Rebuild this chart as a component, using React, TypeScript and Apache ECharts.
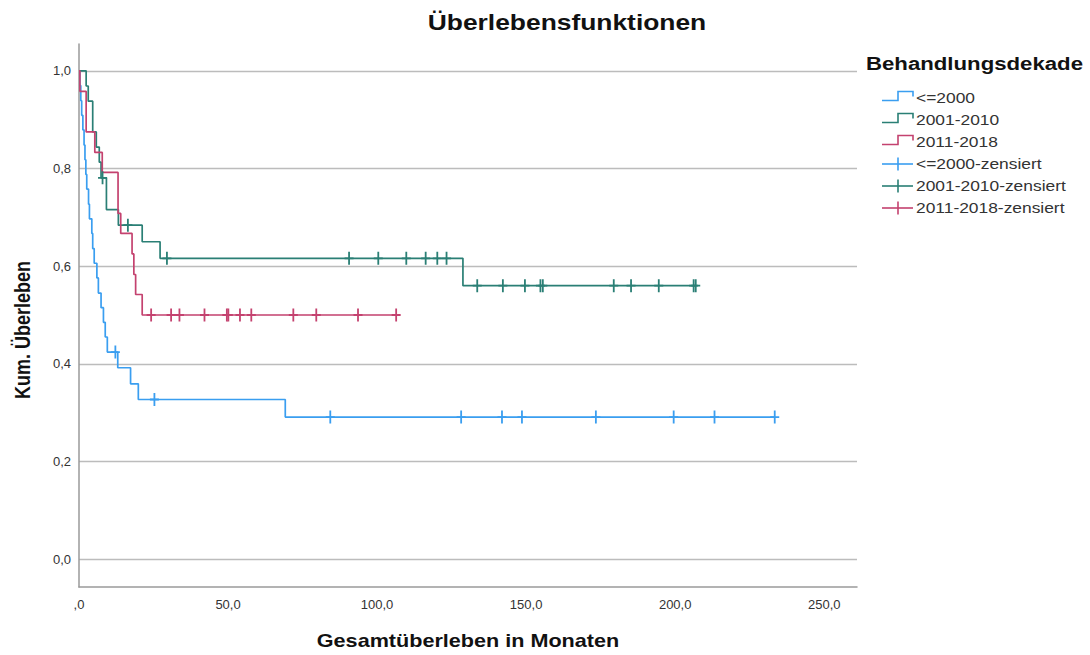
import React, { useEffect, useRef } from "react";
import * as echarts from "echarts";

// Kaplan-Meier survival by treatment decade: [months, cumulative survival]
const groupNames = ["<=2000", "2001-2010", "2011-2018"];
const groupColors = ["#3a9ef0", "#2a7f75", "#c4426f"];

const stepsUpTo2000: [number, number][] = [
  [0, 1], [0.3, 0.97], [0.6, 0.939], [0.9, 0.909], [1.3, 0.879], [1.7, 0.848],
  [2.0, 0.818], [2.3, 0.788], [2.6, 0.758], [3.2, 0.727], [3.5, 0.697],
  [4.3, 0.667], [4.6, 0.636], [5.1, 0.606], [6.0, 0.576], [6.5, 0.545],
  [7.4, 0.515], [8.2, 0.485], [8.8, 0.455], [9.5, 0.424], [13.0, 0.392],
  [17.3, 0.359], [19.9, 0.327], [69.2, 0.291], [233.4, 0.291],
];
const censoredUpTo2000 = [12.2, 25.3, 84.3, 128.2, 141.9, 148.6, 173.4, 199.5, 213.2, 233.4];

const steps2001to2010: [number, number][] = [
  [0, 1], [2.4, 0.969], [3.1, 0.938], [4.6, 0.875], [5.8, 0.844], [6.8, 0.813],
  [7.4, 0.781], [9.2, 0.716], [13.2, 0.684], [21.2, 0.65], [27.2, 0.616],
  [128.8, 0.56], [206.9, 0.56],
];
const censored2001to2010 = [
  7.9, 16.4, 29.5, 90.6, 100.4, 109.8, 116.3, 120.2, 123.3, 133.6, 142.2,
  149.6, 154.8, 155.6, 179.4, 185.2, 194.5, 206.2, 206.9,
];

const steps2011to2018: [number, number][] = [
  [0, 1], [0.3, 0.958], [2.4, 0.875], [5.3, 0.833], [7.8, 0.792], [13.1, 0.708],
  [14.0, 0.667], [17.8, 0.625], [18.4, 0.583], [19.0, 0.542], [21.2, 0.5],
  [106.4, 0.5],
];
const censored2011to2018 = [24.2, 30.9, 33.7, 42.1, 49.6, 50.1, 54.0, 57.8, 71.9, 79.6, 93.6, 106.4];

const xTickValues = [0, 50, 100, 150, 200, 250];
const yTickValues = [0, 0.2, 0.4, 0.6, 0.8, 1.0];

const FONT = "'Liberation Sans', Arial, sans-serif";
const STRETCH = 1.2;

// censor mark: a filled plus sign
const PLUS =
  "path://M3.6,0 H5.4 V5.6 H9 V7.4 H5.4 V13 H3.6 V7.4 H0 V5.6 H3.6 Z";

function survivalAt(steps: [number, number][], t: number): number {
  let v = steps[0][1];
  for (const [ti, vi] of steps) if (ti <= t) v = vi;
  return v;
}

const fmt = (v: number) => (v === 0 ? "0,0" : v.toFixed(1).replace(".", ","));

export default function App() {
  const ref = useRef<HTMLDivElement>(null);

  useEffect(() => {
    if (!ref.current) return;
    const chart = echarts.init(ref.current, null, { renderer: "svg" });

    const stepSets = [stepsUpTo2000, steps2001to2010, steps2011to2018];
    const censorSets = [censoredUpTo2000, censored2001to2010, censored2011to2018];

    const lineSeries = stepSets.map((s, i) => ({
      name: groupNames[i],
      type: "line",
      step: "end",
      data: s,
      showSymbol: false,
      symbol: "none",
      lineStyle: { color: groupColors[i], width: 1.7 },
      itemStyle: { color: groupColors[i] },
      z: 2,
    }));
    const censorSeries = censorSets.map((c, i) => ({
      name: groupNames[i] + "-zensiert",
      type: "scatter",
      data: c.map((t) => [t, survivalAt(stepSets[i], t)]),
      symbol: PLUS,
      symbolSize: [9, 13],
      itemStyle: { color: groupColors[i], opacity: 1 },
      z: 3,
    }));

    // legend drawn as step icons and plus icons
    const legendRows = [98, 120, 142, 164, 186, 208];
    const legendLabels = [
      ...groupNames,
      ...groupNames.map((g) => g + "-zensiert"),
    ];
    const legendEls: any[] = [
      {
        type: "text",
        x: 866,
        y: 64,
        scaleX: STRETCH,
        style: {
          text: "Behandlungsdekade",
          font: `bold 18.5px ${FONT}`,
          fill: "#111",
          align: "left",
          verticalAlign: "middle",
        },
      },
    ];
    legendLabels.forEach((label, k) => {
      const r = legendRows[k];
      const c = groupColors[k % 3];
      if (k < 3) {
        legendEls.push({
          type: "polyline",
          shape: {
            points: [
              [882, r + 2.5], [898, r + 2.5], [898, r - 6.5],
              [913, r - 6.5], [913, r - 1.5],
            ],
          },
          style: { stroke: c, lineWidth: 1.6, fill: null },
        });
      } else {
        legendEls.push({
          type: "line",
          shape: { x1: 882, y1: r, x2: 913, y2: r },
          style: { stroke: c, lineWidth: 1.6 },
        });
        legendEls.push({
          type: "line",
          shape: { x1: 898, y1: r - 6.5, x2: 898, y2: r + 6.5 },
          style: { stroke: c, lineWidth: 1.6 },
        });
      }
      legendEls.push({
        type: "text",
        x: 916,
        y: r,
        scaleX: STRETCH,
        style: {
          text: label,
          font: `14.5px ${FONT}`,
          fill: "#333",
          align: "left",
          verticalAlign: "middle",
        },
      });
    });

    chart.setOption({
      animation: false,
      backgroundColor: "#fff",
      grid: { left: 79, right: 233, top: 44, bottom: 68 },
      xAxis: {
        type: "value",
        min: 0,
        max: 261,
        axisLine: { show: true, onZero: false, lineStyle: { color: "#9a9a9a", width: 1.5 } },
        axisTick: { show: false, customValues: xTickValues },
        axisLabel: {
          customValues: xTickValues,
          formatter: (v: number) => (v === 0 ? ",0" : v.toFixed(1).replace(".", ",")),
          color: "#333",
          fontFamily: FONT,
          fontSize: 13,
          margin: 11,
        },
        splitLine: { show: false },
      },
      yAxis: {
        type: "value",
        min: -0.057,
        max: 1.055,
        axisLine: { show: true, onZero: false, lineStyle: { color: "#9a9a9a", width: 1.5 } },
        axisTick: { show: false, customValues: yTickValues },
        axisLabel: {
          customValues: yTickValues,
          formatter: fmt,
          color: "#333",
          fontFamily: FONT,
          fontSize: 13,
          margin: 8,
        },
        splitLine: { show: true, lineStyle: { color: "#bcbcbc", width: 1.3 } },
      },
      graphic: [
        {
          type: "text",
          x: 567,
          y: 22,
          scaleX: STRETCH,
          style: {
            text: "Überlebensfunktionen",
            font: `bold 22px ${FONT}`,
            fill: "#111",
            align: "center",
            verticalAlign: "middle",
          },
        },
        {
          type: "text",
          x: 468,
          y: 641,
          scaleX: STRETCH,
          style: {
            text: "Gesamtüberleben in Monaten",
            font: `bold 18px ${FONT}`,
            fill: "#111",
            align: "center",
            verticalAlign: "middle",
          },
        },
        {
          type: "text",
          x: 22,
          y: 330,
          rotation: Math.PI / 2,
          scaleY: STRETCH,
          style: {
            text: "Kum. Überleben",
            font: `bold 18px ${FONT}`,
            fill: "#111",
            align: "center",
            verticalAlign: "middle",
          },
        },
        ...legendEls,
      ],
      series: [...lineSeries, ...censorSeries],
    });

    return () => chart.dispose();
  }, []);

  return (
    <div
      ref={ref}
      style={{ position: "fixed", left: 0, top: 0, width: 1090, height: 655 }}
    />
  );
}
